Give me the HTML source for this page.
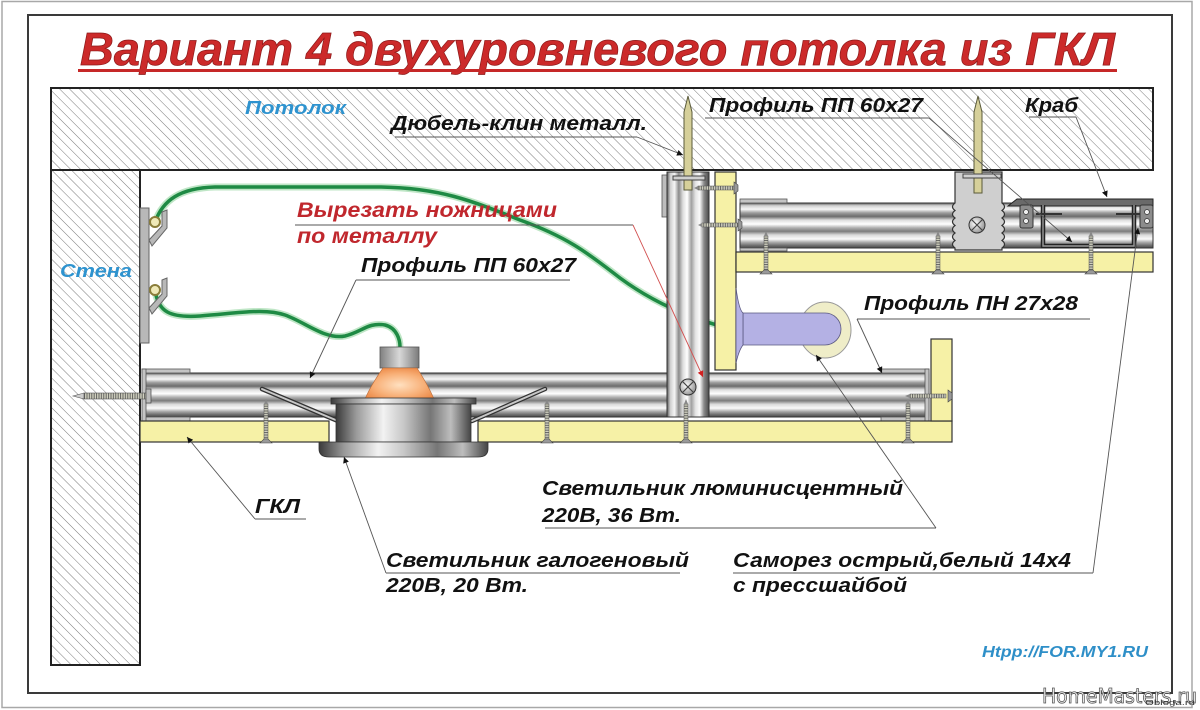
<!DOCTYPE html>
<html><head><meta charset="utf-8">
<style>
html,body{margin:0;padding:0;background:#fff;}
svg{display:block;}
.lb{font-family:"Liberation Sans",sans-serif;font-weight:bold;font-style:italic;}
.nr{font-family:"Liberation Sans Narrow","Liberation Sans",sans-serif;font-weight:bold;font-style:italic;}
</style></head>
<body>
<svg width="1200" height="710" viewBox="0 0 1200 710" xmlns="http://www.w3.org/2000/svg">
<defs>
  <pattern id="hatch" width="7" height="7" patternUnits="userSpaceOnUse" patternTransform="rotate(-45)">
    <rect width="7" height="7" fill="#fff"/>
    <line x1="0" y1="0" x2="0" y2="7" stroke="#7a7a7a" stroke-width="1"/>
  </pattern>
  <linearGradient id="hp" x1="0" y1="0" x2="0" y2="1">
    <stop offset="0" stop-color="#5a5a5a"/>
    <stop offset="0.06" stop-color="#d0d0d0"/>
    <stop offset="0.14" stop-color="#f6f6f6"/>
    <stop offset="0.22" stop-color="#9c9c9c"/>
    <stop offset="0.30" stop-color="#6c6c6c"/>
    <stop offset="0.38" stop-color="#dedede"/>
    <stop offset="0.47" stop-color="#ffffff"/>
    <stop offset="0.55" stop-color="#b0b0b0"/>
    <stop offset="0.63" stop-color="#7c7c7c"/>
    <stop offset="0.71" stop-color="#dadada"/>
    <stop offset="0.80" stop-color="#fafafa"/>
    <stop offset="0.88" stop-color="#a4a4a4"/>
    <stop offset="0.95" stop-color="#6a6a6a"/>
    <stop offset="1" stop-color="#4a4a4a"/>
  </linearGradient>
  <linearGradient id="vp" x1="0" y1="0" x2="1" y2="0">
    <stop offset="0" stop-color="#5a5a5a"/>
    <stop offset="0.08" stop-color="#d0d0d0"/>
    <stop offset="0.18" stop-color="#f6f6f6"/>
    <stop offset="0.28" stop-color="#8c8c8c"/>
    <stop offset="0.38" stop-color="#dedede"/>
    <stop offset="0.48" stop-color="#ffffff"/>
    <stop offset="0.58" stop-color="#a0a0a0"/>
    <stop offset="0.68" stop-color="#e4e4e4"/>
    <stop offset="0.78" stop-color="#fafafa"/>
    <stop offset="0.88" stop-color="#8a8a8a"/>
    <stop offset="1" stop-color="#4a4a4a"/>
  </linearGradient>
  <linearGradient id="met" x1="0" y1="0" x2="1" y2="0">
    <stop offset="0" stop-color="#3a3a3a"/>
    <stop offset="0.15" stop-color="#9a9a9a"/>
    <stop offset="0.35" stop-color="#f2f2f2"/>
    <stop offset="0.5" stop-color="#c8c8c8"/>
    <stop offset="0.7" stop-color="#767676"/>
    <stop offset="0.85" stop-color="#bdbdbd"/>
    <stop offset="1" stop-color="#444"/>
  </linearGradient>
  <linearGradient id="cap" x1="0" y1="0" x2="1" y2="0">
    <stop offset="0" stop-color="#808080"/>
    <stop offset="0.5" stop-color="#d8d8d8"/>
    <stop offset="1" stop-color="#7a7a7a"/>
  </linearGradient>
  <radialGradient id="bulb" cx="0.5" cy="0.55" r="0.6">
    <stop offset="0" stop-color="#ffe0c0"/>
    <stop offset="0.6" stop-color="#f8b078"/>
    <stop offset="1" stop-color="#ec8a48"/>
  </radialGradient>
  <radialGradient id="scr" cx="0.4" cy="0.4" r="0.7">
    <stop offset="0" stop-color="#fff"/>
    <stop offset="1" stop-color="#888"/>
  </radialGradient>
  <pattern id="thv" width="4" height="2.4" patternUnits="userSpaceOnUse">
    <rect width="4" height="2.4" fill="#d2d2c0"/>
    <line x1="0" y1="0.6" x2="4" y2="0.6" stroke="#555" stroke-width="0.9"/>
  </pattern>
  <pattern id="thh" width="2.4" height="4" patternUnits="userSpaceOnUse">
    <rect width="2.4" height="4" fill="#d2d2c0"/>
    <line x1="0.6" y1="0" x2="0.6" y2="4" stroke="#555" stroke-width="0.9"/>
  </pattern>
  <marker id="ar" viewBox="0 0 10 10" refX="10" refY="5" markerWidth="10" markerHeight="6" markerUnits="userSpaceOnUse" orient="auto">
    <path d="M0,0 L10,5 L0,10 z" fill="#111"/>
  </marker>
  <marker id="arr" viewBox="0 0 10 10" refX="10" refY="5" markerWidth="10" markerHeight="6" markerUnits="userSpaceOnUse" orient="auto">
    <path d="M0,0 L10,5 L0,10 z" fill="#d02020"/>
  </marker>
</defs>

<!-- backgrounds / frames -->
<rect x="0" y="0" width="1200" height="710" fill="#fff"/>
<rect x="2" y="1.5" width="1190" height="706" fill="none" stroke="#a8a8a8" stroke-width="1.5"/>
<rect x="28" y="15" width="1144" height="678" fill="#fff" stroke="#3a3a3a" stroke-width="2"/>

<!-- title -->
<text class="lb" x="80" y="65" font-size="46" fill="#cc2a2a" stroke="#8a1818" stroke-width="0.7" textLength="1035" lengthAdjust="spacingAndGlyphs">Вариант 4 двухуровневого потолка из ГКЛ</text>
<rect x="78" y="69" width="1039" height="3" fill="#c62828"/>

<!-- slab & wall -->
<rect x="51" y="88" width="1102" height="82" fill="url(#hatch)" stroke="#222" stroke-width="2"/>
<rect x="51" y="170" width="89" height="495" fill="url(#hatch)" stroke="#222" stroke-width="2"/>

<text class="lb" x="245" y="114" font-size="18" fill="#2e93cf" textLength="101" lengthAdjust="spacingAndGlyphs">Потолок</text>
<text class="lb" x="60" y="277" font-size="18" fill="#2e93cf" textLength="72" lengthAdjust="spacingAndGlyphs">Стена</text>

<!-- wires -->
<g fill="none" stroke-linecap="round">
  <path d="M155,222 C163,200 180,188 215,187 L380,187 C440,188 470,200 520,220 C570,238 590,255 620,278 C650,300 690,320 737,330" stroke="#bfe6c6" stroke-width="7"/>
  <path d="M155,222 C163,200 180,188 215,187 L380,187 C440,188 470,200 520,220 C570,238 590,255 620,278 C650,300 690,320 737,330" stroke="#1e8a44" stroke-width="3.5"/>
  <path d="M155,290 C158,312 170,318 200,316 C240,313 265,308 285,315 C305,322 325,340 345,336 C362,332 368,322 385,325 C397,328 400,340 400,347" stroke="#bfe6c6" stroke-width="7"/>
  <path d="M155,290 C158,312 170,318 200,316 C240,313 265,308 285,315 C305,322 325,340 345,336 C362,332 368,322 385,325 C397,328 400,340 400,347" stroke="#1e8a44" stroke-width="3.5"/>
</g>

<!-- wall bracket -->
<g fill="#b8b8b8" stroke="#666" stroke-width="1">
  <rect x="140" y="208" width="9" height="135"/>
  <path d="M149,240 L162,226 L162,212 L167,210 L167,228 L152,246 Z"/>
  <path d="M149,308 L162,294 L162,280 L167,278 L167,296 L152,314 Z"/>
</g>
<circle cx="155" cy="222" r="5" fill="#efe9b8" stroke="#8a7d3a" stroke-width="2"/>
<circle cx="155" cy="290" r="5" fill="#efe9b8" stroke="#8a7d3a" stroke-width="2"/>

<!-- lower profile -->
<rect x="143" y="373" width="786" height="44" fill="url(#hp)" stroke="#333" stroke-width="1"/>
<g fill="#c4c4c4" stroke="#555" stroke-width="0.8">
  <rect x="142" y="369" width="48" height="4"/>
  <rect x="142" y="417" width="48" height="4"/>
  <rect x="142" y="369" width="4" height="52"/>
  <rect x="881" y="369" width="48" height="4"/>
  <rect x="881" y="417" width="48" height="4"/>
  <rect x="925" y="369" width="4" height="52"/>
</g>

<!-- lower GKL -->
<g fill="#f6f1a6" stroke="#333" stroke-width="1.2">
  <rect x="140" y="421" width="189" height="21"/>
  <rect x="478" y="421" width="474" height="21"/>
  <rect x="931" y="339" width="21" height="82"/>
</g>

<!-- vertical profile -->
<rect x="662" y="175" width="6" height="42" fill="#bdbdbd" stroke="#555" stroke-width="0.8"/>
<rect x="667" y="172" width="42" height="245" fill="url(#vp)" stroke="#333" stroke-width="1"/>
<rect x="715" y="172" width="21" height="198" fill="#f6f1a6" stroke="#333" stroke-width="1.2"/>

<!-- upper profile -->
<rect x="740" y="203" width="413" height="45" fill="url(#hp)" stroke="#333" stroke-width="1"/>
<rect x="740" y="199" width="47" height="4" fill="#c4c4c4" stroke="#555" stroke-width="0.8"/>
<rect x="740" y="248" width="47" height="3" fill="#c4c4c4" stroke="#555" stroke-width="0.8"/>
<rect x="736" y="252" width="417" height="20" fill="#f6f1a6" stroke="#333" stroke-width="1.2"/>

<!-- hanger -->
<path d="M955,172 L1002,172 L1002,203 q5,3.75 0,7.5 q5,3.75 0,7.5 q5,3.75 0,7.5 q5,3.75 0,7.5 q5,3.75 0,7.5 q5,3.75 0,7.5 L1002,250 L955,250 L955,248 q-5,-3.75 0,-7.5 q-5,-3.75 0,-7.5 q-5,-3.75 0,-7.5 q-5,-3.75 0,-7.5 q-5,-3.75 0,-7.5 q-5,-3.75 0,-7.5 L955,172 Z" fill="#cfcfcf" stroke="#333" stroke-width="1.2"/>
<circle cx="977" cy="225" r="8" fill="url(#scr)" stroke="#333" stroke-width="1"/>
<path d="M971,219 L983,231 M983,219 L971,231" stroke="#444" stroke-width="1.2"/>

<!-- crab -->
<path d="M1008,206 L1017,199 L1153,199 L1153,206 Z" fill="#6a6a6a" stroke="#222" stroke-width="1"/>
<g fill="#8c8c8c" stroke="#333" stroke-width="1">
  <rect x="1020" y="205" width="13" height="23" rx="2"/>
  <rect x="1140" y="205" width="13" height="23" rx="2"/>
</g>
<g fill="#eee" stroke="#333" stroke-width="0.7">
  <circle cx="1026" cy="212" r="2.5"/><circle cx="1026" cy="221" r="2.5"/>
  <circle cx="1147" cy="212" r="2.5"/><circle cx="1147" cy="221" r="2.5"/>
</g>
<path d="M1043,205 V246 H1134 V205" fill="none" stroke="#222" stroke-width="4.5"/>
<path d="M1043,205 V246 H1134 V205" fill="none" stroke="#9a9a9a" stroke-width="1.4"/>
<g stroke="#333" stroke-width="2">
  <line x1="1036" y1="214" x2="1062" y2="214"/>
  <line x1="1116" y1="214" x2="1140" y2="214"/>
</g>

<!-- nails (dowels) -->
<g fill="#d6d09a" stroke="#5a5a3a" stroke-width="1">
  <path d="M688,96 L692,112 L692,190 L684,190 L684,112 Z"/>
  <path d="M978,96 L982,112 L982,193 L974,193 L974,112 Z"/>
</g>
<g fill="#d0d0d0" stroke="#444" stroke-width="1">
  <rect x="673" y="176" width="32" height="4"/>
  <rect x="963" y="174" width="38" height="4"/>
</g>

<!-- horizontal screws -->
<g>
  <rect x="698" y="186" width="36" height="4" fill="url(#thh)" stroke="#555" stroke-width="0.5"/>
  <path d="M698,186 L694,188 L698,190 Z" fill="#888"/>
  <path d="M734,182 L734,194 L738,191 L738,185 Z" fill="#999" stroke="#444" stroke-width="0.6"/>
  <rect x="702" y="223" width="36" height="4" fill="url(#thh)" stroke="#555" stroke-width="0.5"/>
  <path d="M702,223 L698,225 L702,227 Z" fill="#888"/>
  <path d="M738,219 L738,231 L742,228 L742,222 Z" fill="#999" stroke="#444" stroke-width="0.6"/>
  <rect x="910" y="394" width="36" height="4" fill="url(#thh)" stroke="#555" stroke-width="0.5"/>
  <path d="M910,394 L905,396 L910,398 Z" fill="#888"/>
  <path d="M948,390 L948,402 L952,399 L952,393 Z" fill="#999" stroke="#444" stroke-width="0.6"/>
  <!-- wall dowel -->
  <rect x="84" y="393" width="62" height="6" fill="url(#thh)" stroke="#555" stroke-width="0.6"/>
  <path d="M84,393 L73,396 L84,399 Z" fill="#ccc" stroke="#555" stroke-width="0.6"/>
  <rect x="146" y="389" width="5" height="14" fill="#bbb" stroke="#444" stroke-width="0.7"/>
</g>

<!-- vertical screws -->
<g>
  <g><rect x="264" y="404" width="4" height="35" fill="url(#thv)" stroke="#555" stroke-width="0.5"/><path d="M264,404 L266,399 L268,404 Z" fill="#888"/><path d="M260,443 L272,443 L268,439 L264,439 Z" fill="#999" stroke="#444" stroke-width="0.6"/></g>
  <g><rect x="545" y="404" width="4" height="35" fill="url(#thv)" stroke="#555" stroke-width="0.5"/><path d="M545,404 L547,399 L549,404 Z" fill="#888"/><path d="M541,443 L553,443 L549,439 L545,439 Z" fill="#999" stroke="#444" stroke-width="0.6"/></g>
  <g><rect x="684" y="404" width="4" height="35" fill="url(#thv)" stroke="#555" stroke-width="0.5"/><path d="M684,404 L686,399 L688,404 Z" fill="#888"/><path d="M680,443 L692,443 L688,439 L684,439 Z" fill="#999" stroke="#444" stroke-width="0.6"/></g>
  <g><rect x="906" y="404" width="4" height="35" fill="url(#thv)" stroke="#555" stroke-width="0.5"/><path d="M906,404 L908,399 L910,404 Z" fill="#888"/><path d="M902,443 L914,443 L910,439 L906,439 Z" fill="#999" stroke="#444" stroke-width="0.6"/></g>
  <g><rect x="764" y="236" width="4" height="34" fill="url(#thv)" stroke="#555" stroke-width="0.5"/><path d="M764,236 L766,231 L768,236 Z" fill="#888"/><path d="M760,274 L772,274 L768,270 L764,270 Z" fill="#999" stroke="#444" stroke-width="0.6"/></g>
  <g><rect x="936" y="236" width="4" height="34" fill="url(#thv)" stroke="#555" stroke-width="0.5"/><path d="M936,236 L938,231 L940,236 Z" fill="#888"/><path d="M932,274 L944,274 L940,270 L936,270 Z" fill="#999" stroke="#444" stroke-width="0.6"/></g>
  <g><rect x="1089" y="236" width="4" height="34" fill="url(#thv)" stroke="#555" stroke-width="0.5"/><path d="M1089,236 L1091,231 L1093,236 Z" fill="#888"/><path d="M1085,274 L1097,274 L1093,270 L1089,270 Z" fill="#999" stroke="#444" stroke-width="0.6"/></g>
</g>

<!-- screw head on vertical profile -->
<circle cx="688" cy="387" r="8" fill="url(#scr)" stroke="#333" stroke-width="1"/>
<path d="M682,381 L694,393 M694,381 L682,393" stroke="#444" stroke-width="1.2"/>

<!-- halogen lamp -->
<rect x="380" y="347" width="39" height="21" fill="url(#cap)" stroke="#555" stroke-width="0.8"/>
<path d="M383,368 L417,368 Q428,385 434,399 L365,399 Q371,385 383,368 Z" fill="url(#bulb)" stroke="#b86a38" stroke-width="0.6"/>
<g stroke-linecap="round">
  <line x1="262" y1="389" x2="338" y2="421" stroke="#333" stroke-width="4.5"/>
  <line x1="262" y1="389" x2="338" y2="421" stroke="#c8c8c8" stroke-width="2"/>
  <line x1="472" y1="421" x2="545" y2="389" stroke="#333" stroke-width="4.5"/>
  <line x1="472" y1="421" x2="545" y2="389" stroke="#c8c8c8" stroke-width="2"/>
</g>
<rect x="331" y="398" width="145" height="6" fill="url(#met)" stroke="#333" stroke-width="0.8"/>
<rect x="336" y="404" width="135" height="38" fill="url(#met)" stroke="#333" stroke-width="0.8"/>
<path d="M319,442 H488 V449 Q488,457 478,457 H329 Q319,457 319,449 Z" fill="url(#met)" stroke="#333" stroke-width="0.8"/>

<!-- fluorescent lamp -->
<ellipse cx="825" cy="330" rx="26" ry="28" fill="#efedc8" stroke="#999" stroke-width="1"/>
<path d="M743,313 L825,313 A16,16 0 0 1 825,345 L743,345 Z" fill="#b4b1e4" stroke="#5a5880" stroke-width="0.8"/>
<path d="M736,288 Q739,310 743,313 L743,345 Q739,350 736,363 Z" fill="#b4b1e4" stroke="#5a5880" stroke-width="0.8"/>

<!-- leaders -->
<g stroke="#555" stroke-width="0.9" fill="none">
  <line x1="395" y1="137" x2="637" y2="137"/>
  <line x1="637" y1="137" x2="683" y2="155" marker-end="url(#ar)"/>
  <line x1="705" y1="118" x2="929" y2="118"/>
  <line x1="929" y1="118" x2="1072" y2="242" marker-end="url(#ar)"/>
  <line x1="1029" y1="117" x2="1076" y2="117"/>
  <line x1="1076" y1="117" x2="1107" y2="197" marker-end="url(#ar)"/>
  <line x1="295" y1="225" x2="633" y2="225"/>
  <line x1="356" y1="280" x2="570" y2="280"/>
  <line x1="356" y1="280" x2="310" y2="378" marker-end="url(#ar)"/>
  <line x1="857" y1="319" x2="1090" y2="319"/>
  <line x1="857" y1="319" x2="882" y2="373" marker-end="url(#ar)"/>
  <line x1="255" y1="519" x2="306" y2="519"/>
  <line x1="255" y1="519" x2="187" y2="437" marker-end="url(#ar)"/>
  <line x1="386" y1="573" x2="680" y2="573"/>
  <line x1="386" y1="573" x2="344" y2="457" marker-end="url(#ar)"/>
  <line x1="545" y1="528" x2="936" y2="528"/>
  <line x1="936" y1="528" x2="816" y2="355" marker-end="url(#ar)"/>
  <line x1="733" y1="573" x2="1093" y2="573"/>
  <line x1="1093" y1="573" x2="1138" y2="228" marker-end="url(#ar)"/>
</g>
<line x1="633" y1="225" x2="703" y2="377" stroke="#d25050" stroke-width="0.9" marker-end="url(#arr)"/>

<!-- labels -->
<g class="lb" fill="#111" font-size="20">
  <text x="391" y="130" textLength="256" lengthAdjust="spacingAndGlyphs">Дюбель-клин металл.</text>
  <text x="709" y="112" textLength="214" lengthAdjust="spacingAndGlyphs">Профиль ПП 60x27</text>
  <text x="1025" y="112" textLength="53" lengthAdjust="spacingAndGlyphs">Краб</text>
  <text x="361" y="272" textLength="215" lengthAdjust="spacingAndGlyphs">Профиль ПП 60x27</text>
  <text x="864" y="310" textLength="214" lengthAdjust="spacingAndGlyphs">Профиль ПН 27х28</text>
</g>
<g class="lb" fill="#c0272d" font-size="21">
  <text x="297" y="217" textLength="260" lengthAdjust="spacingAndGlyphs">Вырезать ножницами</text>
  <text x="297" y="243" textLength="140" lengthAdjust="spacingAndGlyphs">по металлу</text>
</g>
<g class="nr" fill="#111" font-size="20">
  <text x="255" y="513" textLength="45" lengthAdjust="spacingAndGlyphs">ГКЛ</text>
  <text x="542" y="495" textLength="361" lengthAdjust="spacingAndGlyphs">Светильник люминисцентный</text>
  <text x="542" y="522" textLength="139" lengthAdjust="spacingAndGlyphs">220В, 36 Вт.</text>
  <text x="386" y="567" textLength="303" lengthAdjust="spacingAndGlyphs">Светильник галогеновый</text>
  <text x="386" y="592" textLength="142" lengthAdjust="spacingAndGlyphs">220В, 20 Вт.</text>
  <text x="733" y="567" textLength="338" lengthAdjust="spacingAndGlyphs">Саморез острый,белый 14х4</text>
  <text x="733" y="592" textLength="174" lengthAdjust="spacingAndGlyphs">с прессшайбой</text>
</g>
<text class="lb" x="982" y="657" font-size="16" fill="#2e8fc8" textLength="166" lengthAdjust="spacingAndGlyphs">Htpp://FOR.MY1.RU</text>

<!-- watermark -->
<text x="1042" y="703" font-family="DejaVu Sans, sans-serif" font-size="20" fill="#f2f2f2" stroke="#555" stroke-width="0.8" textLength="155" lengthAdjust="spacingAndGlyphs">HomeMasters.ru</text>
<text x="1145" y="705" font-family="Liberation Sans, sans-serif" font-size="7" fill="#333" textLength="50" lengthAdjust="spacingAndGlyphs">Obloga.ru</text>
</svg>
</body></html>
